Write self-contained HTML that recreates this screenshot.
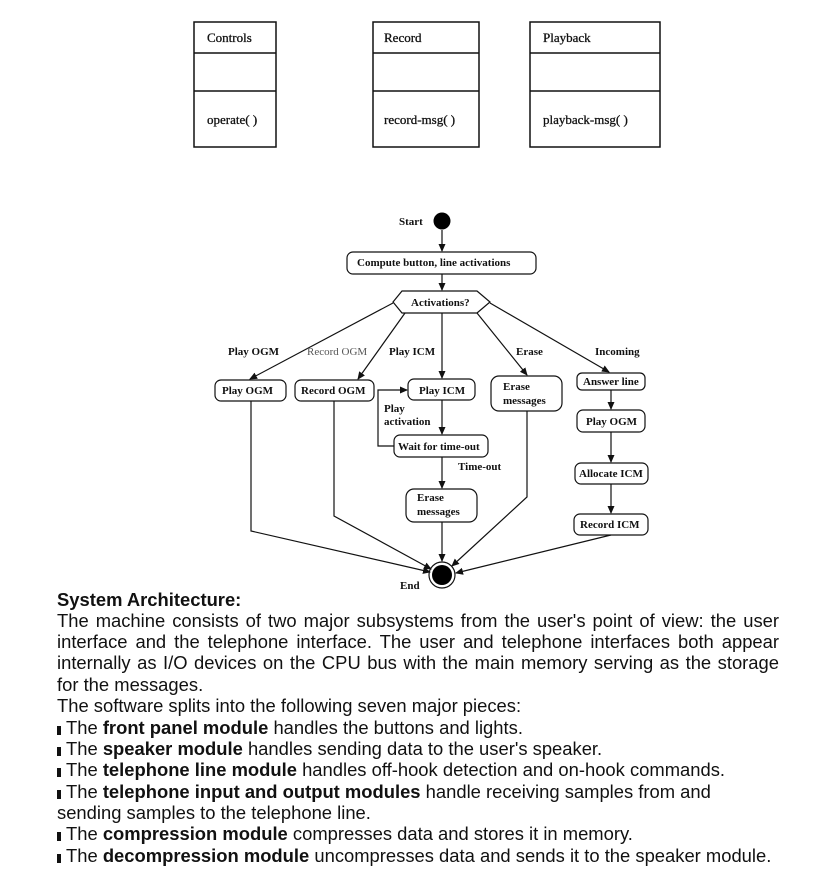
<!DOCTYPE html>
<html><head><meta charset="utf-8"><style>
body{margin:0;background:#fff;width:816px;height:895px;overflow:hidden;position:relative;font-family:"Liberation Sans",Arial,sans-serif;}
svg{position:absolute;left:0;top:0}
.t{position:absolute;left:57px;width:722px;font-size:18.4px;line-height:21.35px;color:#111;white-space:nowrap}
.j{text-align:justify;text-align-last:justify;white-space:normal}
.b{display:inline-block;width:4px;height:9px;background:#111;margin-right:5px;vertical-align:-1px}
</style></head><body>
<svg width="816" height="600" viewBox="0 0 816 600" font-family="Liberation Serif,serif" font-size="11" font-weight="bold" fill="#111">
<defs><marker id="a" markerWidth="8" markerHeight="8" refX="7" refY="4" orient="auto" markerUnits="userSpaceOnUse"><path d="M0,0.5 L8,4 L0,7.5 Z" fill="#111"/></marker></defs>
<g stroke="#111" stroke-width="1.5" fill="none">
<rect x="194" y="22" width="82" height="125"/><line x1="194" y1="53" x2="276" y2="53"/><line x1="194" y1="91" x2="276" y2="91"/>
<rect x="373" y="22" width="106" height="125"/><line x1="373" y1="53" x2="479" y2="53"/><line x1="373" y1="91" x2="479" y2="91"/>
<rect x="530" y="22" width="130" height="125"/><line x1="530" y1="53" x2="660" y2="53"/><line x1="530" y1="91" x2="660" y2="91"/>
</g>
<g font-size="13" font-weight="normal" stroke="#111" stroke-width="0.3">
<text x="207" y="42">Controls</text><text x="384" y="42">Record</text><text x="543" y="42">Playback</text>
<text x="207" y="124">operate( )</text><text x="384" y="124">record-msg( )</text><text x="543" y="124">playback-msg( )</text>
</g>
<circle cx="442" cy="221" r="8.5" fill="#000"/>
<g stroke="#111" stroke-width="1.2" fill="#fff">
<rect x="347" y="252" width="189" height="22" rx="6"/>
<polygon points="393,302 402,291 477,291 490,302 477,313 402,313"/>
<rect x="215" y="380" width="71" height="21" rx="6"/>
<rect x="295" y="380" width="79" height="21" rx="6"/>
<rect x="408" y="379" width="67" height="21" rx="6"/>
<rect x="491" y="376" width="71" height="35" rx="8"/>
<rect x="577" y="373" width="68" height="17" rx="5"/>
<rect x="577" y="410" width="68" height="22" rx="6"/>
<rect x="575" y="463" width="73" height="21" rx="6"/>
<rect x="574" y="514" width="74" height="21" rx="6"/>
<rect x="394" y="435" width="94" height="22" rx="6"/>
<rect x="406" y="489" width="71" height="33" rx="8"/>
<circle cx="442" cy="575" r="13"/>
</g>
<circle cx="442" cy="575" r="10" fill="#000"/>
<g stroke="#111" stroke-width="1.2" fill="none" marker-end="url(#a)">
<line x1="442" y1="230" x2="442" y2="251"/>
<line x1="442" y1="274" x2="442" y2="290"/>
<line x1="393" y1="303" x2="250" y2="379"/>
<line x1="405" y1="313" x2="358" y2="379"/>
<line x1="442" y1="313" x2="442" y2="378"/>
<line x1="477" y1="313" x2="527" y2="375"/>
<line x1="490" y1="303" x2="609" y2="372"/>
<line x1="442" y1="400" x2="442" y2="434"/>
<polyline points="394,446 378,446 378,390 407,390"/>
<line x1="442" y1="457" x2="442" y2="488"/>
<line x1="442" y1="522" x2="442" y2="561"/>
<polyline points="251,401 251,531 430,572"/>
<polyline points="334,401 334,516 431,569"/>
<polyline points="527,411 527,497 452,566"/>
<line x1="611" y1="535" x2="456" y2="573"/>
<line x1="611" y1="390" x2="611" y2="409"/>
<line x1="611" y1="432" x2="611" y2="462"/>
<line x1="611" y1="484" x2="611" y2="513"/>
</g>
<text x="399" y="225">Start</text>
<text x="357" y="266">Compute button, line activations</text>
<text x="411" y="306">Activations?</text>
<text x="228" y="355">Play OGM</text>
<text x="307" y="355" fill="#555" font-weight="normal">Record OGM</text>
<text x="389" y="355">Play ICM</text>
<text x="516" y="355">Erase</text>
<text x="595" y="355">Incoming</text>
<text x="222" y="394">Play OGM</text>
<text x="301" y="394">Record OGM</text>
<text x="419" y="394">Play ICM</text>
<text x="503" y="390">Erase</text><text x="503" y="404">messages</text>
<text x="583" y="385">Answer line</text>
<text x="586" y="425">Play OGM</text>
<text x="579" y="477">Allocate ICM</text>
<text x="580" y="528">Record ICM</text>
<text x="384" y="412">Play</text><text x="384" y="425">activation</text>
<text x="398" y="450">Wait for time-out</text>
<text x="458" y="470">Time-out</text>
<text x="417" y="501">Erase</text><text x="417" y="515">messages</text>
<text x="400" y="589">End</text>
</svg>
<div class="t" style="top:589px"><b>System Architecture:</b></div>
<div class="t j" style="top:610px">The machine consists of two major subsystems from the user's point of view: the user</div>
<div class="t j" style="top:631px">interface and the telephone interface. The user and telephone interfaces both appear</div>
<div class="t j" style="top:652px">internally as I/O devices on the CPU bus with the main memory serving as the storage</div>
<div class="t" style="top:674px">for the messages.<br>
The software splits into the following seven major pieces:<br>
<span class="b"></span>The <b>front panel module</b> handles the buttons and lights.<br>
<span class="b"></span>The <b>speaker module</b> handles sending data to the user's speaker.<br>
<span class="b"></span>The <b>telephone line module</b> handles off-hook detection and on-hook commands.<br>
<span class="b"></span>The <b>telephone input and output modules</b> handle receiving samples from and<br>sending samples to the telephone line.<br>
<span class="b"></span>The <b>compression module</b> compresses data and stores it in memory.<br>
<span class="b"></span>The <b>decompression module</b> uncompresses data and sends it to the speaker module.</div>
</body></html>
